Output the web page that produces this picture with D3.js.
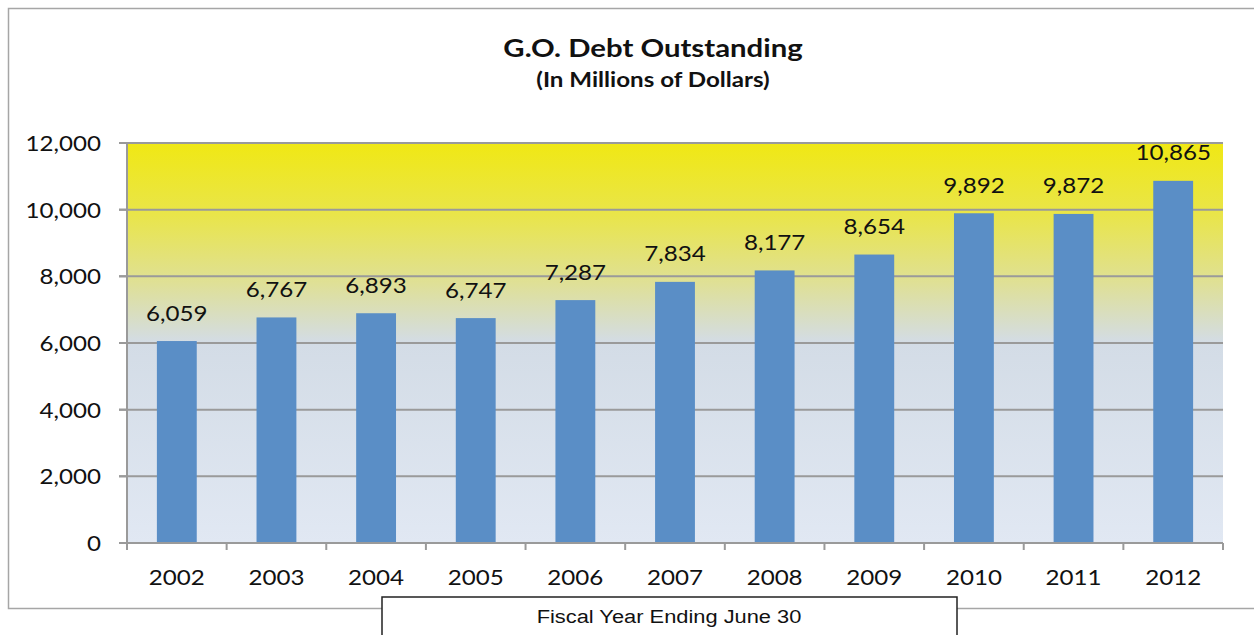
<!DOCTYPE html>
<html><head><meta charset="utf-8">
<script src="https://cdn.jsdelivr.net/npm/d3@7"></script>
<style>body{margin:0;background:#fff}svg{display:block}</style>
</head><body>
<svg id="c" width="1254" height="635"></svg>
<script>
const years = ["2002","2003","2004","2005","2006","2007","2008","2009","2010","2011","2012"];
const debt = [6059,6767,6893,6747,7287,7834,8177,8654,9892,9872,10865];
const yTicks = [0,2000,4000,6000,8000,10000,12000];
const title = "G.O. Debt Outstanding";
const subtitle = "(In Millions of Dollars)";
const xTitle = "Fiscal Year Ending June 30";

const svg = d3.select("#c");
const font = "Lato, 'Noto Sans', sans-serif";
const SX = 1.15;
const L = 127, R = 1223, T = 143, B = 543;

function label(parent, x, y, txt, opts) {
  opts = opts || {};
  return parent.append("text")
    .attr("transform", `translate(${x},${y}) scale(${SX},1)`)
    .attr("text-anchor", opts.anchor || "middle")
    .attr("font-family", opts.family || font)
    .attr("font-weight", opts.weight || "normal")
    .attr("font-size", opts.size || 21)
    .attr("fill", "#111")
    .text(txt);
}

// outer frame (right edge runs past the picture)
svg.append("rect").attr("x",8.5).attr("y",8.5).attr("width",1256).attr("height",600)
  .attr("fill","#fff").attr("stroke","#a6a6a6").attr("stroke-width",1.5);

const defs = svg.append("defs");
const g = defs.append("linearGradient").attr("id","bg").attr("x1",0).attr("y1",0).attr("x2",0).attr("y2",1);
[[0,"#f0e814"],[0.18,"#e9e54a"],[0.35,"#dfe096"],[0.5,"#d3dce6"],[1,"#e1e8f3"]].forEach(s=>
  g.append("stop").attr("offset",s[0]).attr("stop-color",s[1]));

const x = d3.scaleBand().domain(years).range([L,R]).paddingInner(0.6).paddingOuter(0.3);
const y = d3.scaleLinear().domain([0,12000]).range([B,T]);

svg.append("rect").attr("x",L).attr("y",T).attr("width",R-L).attr("height",B-T).attr("fill","url(#bg)");

// gridlines
svg.append("g").selectAll("line").data(yTicks.filter(d=>d>0)).join("line")
  .attr("x1",L-8).attr("x2",R).attr("y1",d=>y(d)).attr("y2",d=>y(d))
  .attr("stroke","#9a9a9a").attr("stroke-width",2);

// bars
svg.append("g").selectAll("rect").data(debt).join("rect")
  .attr("x",(d,i)=>x(years[i])).attr("width",x.bandwidth())
  .attr("y",d=>y(d)).attr("height",d=>B-y(d)).attr("fill","#5a8ec6");

// value labels
const vl = svg.append("g");
debt.forEach((d,i)=>label(vl, x(years[i])+x.bandwidth()/2, y(d)-20.5, d3.format(",")(d)));

// y axis
const ya = svg.append("g");
ya.append("line").attr("x1",L).attr("x2",L).attr("y1",T-1).attr("y2",B).attr("stroke","#9a9a9a").attr("stroke-width",2);
ya.selectAll("line.tk").data(yTicks).join("line").attr("class","tk")
  .attr("x1",L-8).attr("x2",L).attr("y1",d=>y(d)).attr("y2",d=>y(d)).attr("stroke","#9a9a9a").attr("stroke-width",2);
yTicks.forEach(d=>label(ya, 101, y(d)+8, d3.format(",")(d), {anchor:"end"}));

// x axis
const xEdges = d3.scaleBand().domain(years).range([L,R]);
const xa = svg.append("g");
xa.append("line").attr("x1",L-8).attr("x2",R).attr("y1",B).attr("y2",B).attr("stroke","#9a9a9a").attr("stroke-width",2);
xa.selectAll("line.tk").data(years.map(d=>xEdges(d)).concat([R])).join("line").attr("class","tk")
  .attr("x1",d=>d).attr("x2",d=>d).attr("y1",B).attr("y2",B+7).attr("stroke","#9a9a9a").attr("stroke-width",2);
years.forEach(d=>label(xa, xEdges(d)+xEdges.bandwidth()/2, 585, d));

// titles
label(svg, 653, 57, title, {weight:"bold", size:25.5});
label(svg, 653, 87, subtitle, {weight:"bold", size:21});

// x title box
svg.append("rect").attr("x",382).attr("y",597).attr("width",575).attr("height",50)
  .attr("fill","#fff").attr("stroke","#222").attr("stroke-width",1.5);
label(svg, 669, 623, xTitle, {family:"'Liberation Sans', Arial, sans-serif", size:19});
</script>
</body></html>
